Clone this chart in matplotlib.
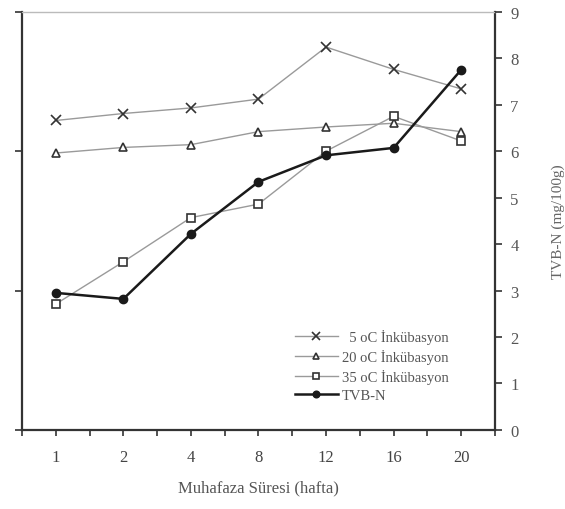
import numpy as np
import matplotlib.pyplot as plt

plt.rcParams['font.family'] = ['Liberation Serif', 'DejaVu Serif']

weeks = ['1', '2', '4', '8', '12', '16', '20']
inc5 = [6.66, 6.81, 6.93, 7.12, 8.24, 7.76, 7.34]
inc20 = [5.96, 6.08, 6.14, 6.42, 6.52, 6.60, 6.42]
inc35 = [2.71, 3.62, 4.57, 4.86, 6.00, 6.75, 6.22]
tvbn = [2.95, 2.82, 4.22, 5.34, 5.91, 6.07, 7.75]

fig = plt.figure(figsize=(5.65, 5.10), dpi=100)
ax = fig.add_axes([0.039, 0.155, 0.837, 0.82])
x = np.arange(len(weeks))

gray = '#9a9a9a'
ax.plot(x, inc5, color=gray, lw=1.0, marker='x', ms=7, mec='#333333', mew=1.2,
        label='  5 oC İnkübasyon')
ax.plot(x, inc20, color=gray, lw=1.0, marker='^', ms=6, mec='#333333', mfc='white', mew=1.2,
        label='20 oC İnkübasyon')
ax.plot(x, inc35, color=gray, lw=1.0, marker='s', ms=6, mec='#333333', mfc='white', mew=1.2,
        label='35 oC İnkübasyon')
ax.plot(x, tvbn, color='#1a1a1a', lw=1.8, marker='o', ms=6, mfc='#1a1a1a', mec='#1a1a1a',
        label='TVB-N')

ax.set_xlim(-0.5, 6.5)
ax.set_ylim(0, 9)
ax.set_xticks(x)
ax.set_xticklabels(weeks, fontsize=12, color='#444444')
ax.set_xticks(np.arange(-0.5, 6.6, 1.0), minor=True)
ax.tick_params(axis='x', which='both', direction='out', length=4, width=1.2, color='#333333', pad=10)
ax.set_yticks([0, 3, 6, 9])
ax.set_yticklabels([])
ax.tick_params(axis='y', direction='out', length=5, width=1.2, color='#333333')
ax.set_xlabel('Muhafaza Süresi (hafta)', fontsize=12, color='#555555', labelpad=10)

ax.spines['top'].set_color('#bbbbbb')
ax.spines['top'].set_linewidth(1.0)
for s in ['left', 'bottom', 'right']:
    ax.spines[s].set_color('#333333')
    ax.spines[s].set_linewidth(1.6)

ax2 = ax.twinx()
ax2.set_ylim(0, 9)
ax2.set_yticks(range(0, 10))
ax2.tick_params(axis='y', direction='out', length=5, width=1.2, color='#333333',
                labelsize=12, labelcolor='#555555', pad=6)
ax2.set_ylabel('TVB-N (mg/100g)', fontsize=11, color='#666666', labelpad=24)
for s in ax2.spines.values():
    s.set_visible(False)

leg = ax.legend(loc='lower right', bbox_to_anchor=(0.93, 0.035), frameon=False,
                fontsize=10.5, handlelength=2.9, labelspacing=0.35, handletextpad=0.3,
                markerscale=0.8)
for t in leg.get_texts():
    t.set_color('#555555')

fig.savefig('out.png', dpi=100)
